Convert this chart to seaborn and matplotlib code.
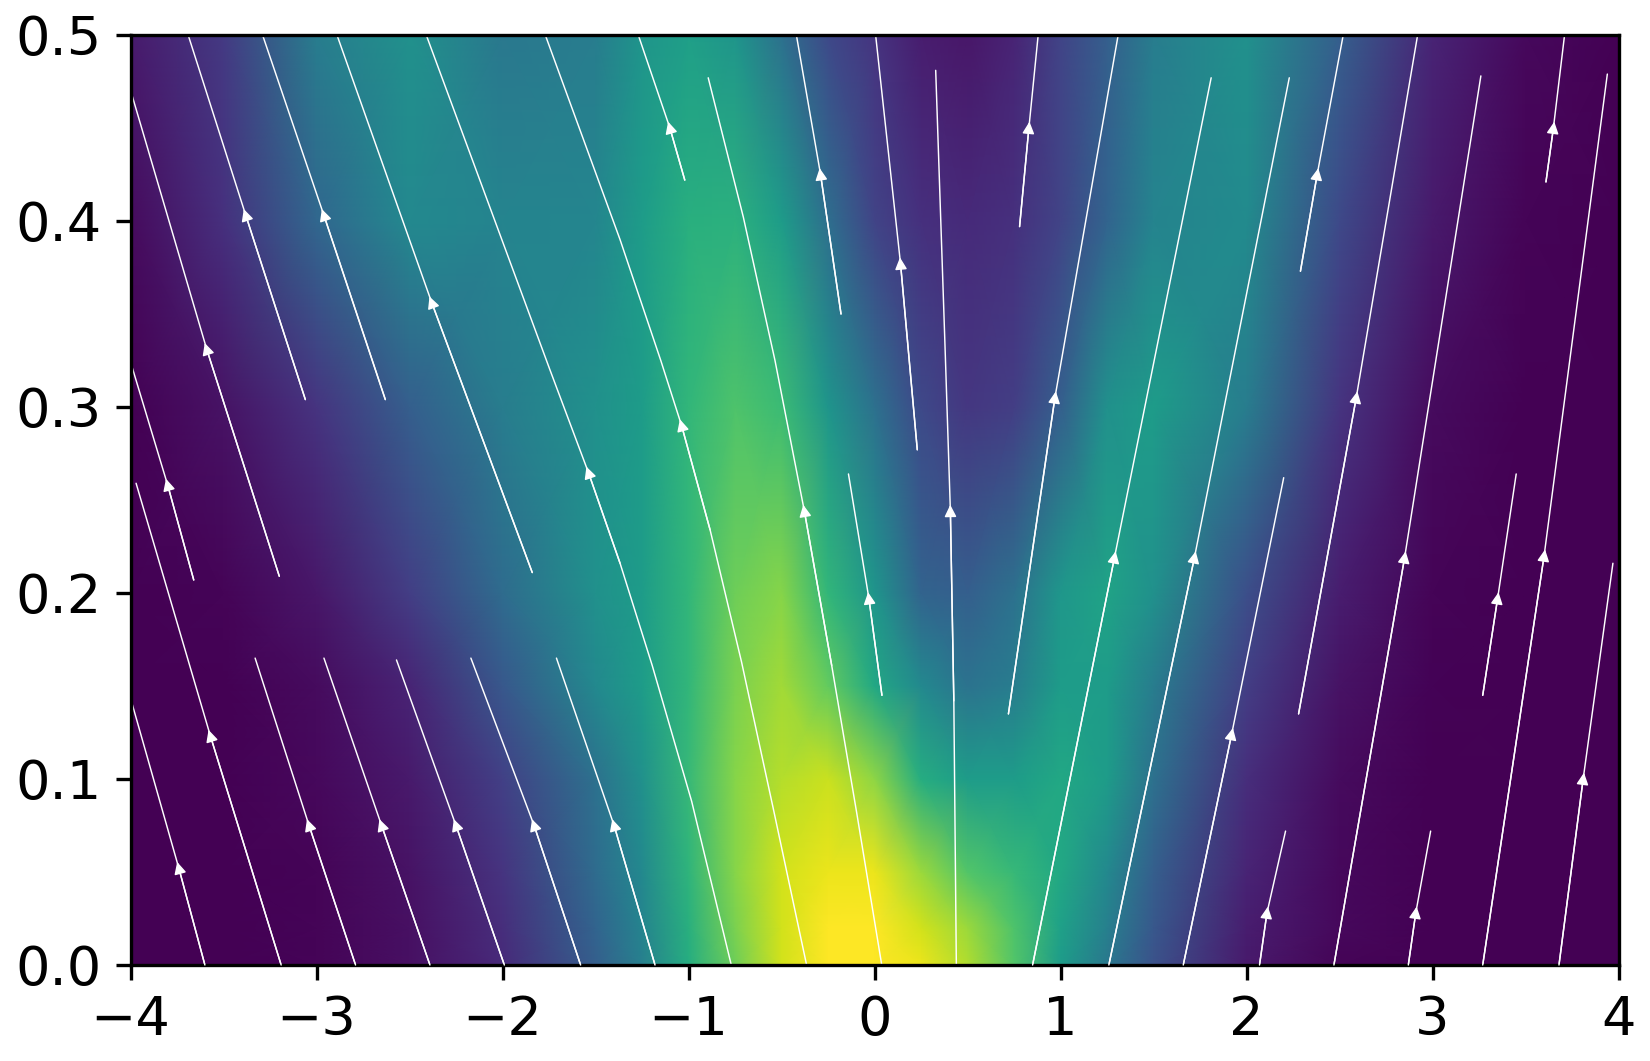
import numpy as np
import seaborn as sns
import matplotlib.pyplot as plt

field_x = [-4, -3.5, -3, -2.5, -2, -1.5, -1.25, -1, -0.75, -0.5, -0.25, 0, 0.25, 0.5, 0.75, 1, 1.25, 1.5, 2, 2.5, 3, 3.5, 4]
field_y = [0, 0.02, 0.05, 0.1, 0.15, 0.2, 0.3, 0.4, 0.5]
row_000 = [0, 0, .01, .04, .12, .30, .43, .62, .78, .93, 1, 1, .97, .88, .73, .55, .40, .25, .07, .01, 0, 0, 0]
row_002 = [0, 0, .01, .04, .13, .32, .45, .63, .80, .93, 1, 1, .93, .85, .72, .57, .43, .27, .08, .02, 0, 0, 0]
row_005 = [0, 0, .01, .05, .15, .35, .47, .65, .82, .93, .97, .97, .85, .73, .67, .60, .47, .30, .10, .02, 0, 0, 0]
row_010 = [0, 0, .02, .07, .19, .37, .50, .67, .82, .89, .92, .83, .62, .55, .55, .60, .55, .37, .13, .03, 0, 0, 0]
row_015 = [0, 0, .03, .10, .27, .47, .55, .66, .80, .86, .76, .60, .47, .38, .42, .55, .55, .42, .18, .05, .005, 0, 0]
row_020 = [0, .01, .06, .18, .35, .50, .55, .66, .78, .82, .66, .52, .32, .30, .37, .53, .58, .50, .24, .08, .01, 0, 0]
row_030 = [0, .05, .15, .30, .42, .50, .55, .66, .72, .68, .52, .37, .22, .16, .18, .30, .50, .55, .42, .15, .03, 0, 0]
row_040 = [.03, .14, .33, .47, .45, .46, .55, .63, .64, .55, .36, .20, .14, .12, .14, .20, .32, .45, .48, .22, .07, .01, 0]
row_050 = [.07, .17, .42, .50, .40, .42, .52, .56, .52, .37, .22, .15, .08, .06, .10, .20, .30, .42, .50, .30, .10, .02, 0]

# streamlines, bottom to top, and which point of each line carries the arrow
stream_x = [
    [-3.60, -3.74, -3.99], [-3.19, -3.57, -3.97], [-2.79, -3.04, -3.33],
    [-2.39, -2.65, -2.96], [-1.99, -2.25, -2.57], [-1.58, -1.83, -2.17],
    [-1.18, -1.40, -1.71],
    [-0.77, -0.983, -1.195, -1.368, -1.537, -1.745, -2.41],
    [-0.365, -0.544, -0.715, -0.884, -1.037, -1.149, -1.368, -1.77],
    [0.039, -0.096, -0.23, -0.377, -0.535, -0.705, -0.894],
    [0.44, 0.4265, 0.408, 0.38, 0.329], [0.85, 1.29, 1.81],
    [0.72, 0.97, 1.31], [0.04, -0.03, -0.14], [0.23, 0.14, 0.006],
    [-0.18, -0.29, -0.42], [-1.02, -1.10, -1.27], [0.78, 0.83, 0.88],
    [1.26, 1.72, 2.23], [1.66, 1.92, 2.20], [2.07, 2.11, 2.21],
    [2.47, 2.85, 3.26], [2.28, 2.59, 2.92], [2.29, 2.38, 2.52],
    [2.87, 2.91, 2.99], [3.27, 3.60, 3.94], [3.68, 3.81, 3.97],
    [3.27, 3.35, 3.45], [3.61, 3.65, 3.71], [-3.06, -3.38, -3.69],
    [-2.63, -2.96, -3.29], [-1.84, -2.38, -2.89], [-3.20, -3.59, -3.99],
    [-3.66, -3.80, -3.99],
]
stream_y = [
    [0, .052, .140], [0, .123, .259], [0, .075, .165],
    [0, .075, .165], [0, .075, .164], [0, .075, .165],
    [0, .075, .165],
    [0, .088, .161, .216, .2645, .32, .5],
    [0, .084, .163, .234, .290, .325, .390, .5],
    [0, .082, .161, .244, .325, .402, .477],
    [0, .142, .244, .330, .481], [0, .219, .477],
    [.135, .305, .5], [.145, .197, .264], [.277, .377, .5],
    [.350, .425, .5], [.422, .450, .5], [.397, .450, .5],
    [0, .219, .477], [0, .124, .262], [0, .028, .072],
    [0, .219, .478], [.135, .305, .5], [.373, .425, .5],
    [0, .028, .072], [0, .220, .479], [0, .100, .216],
    [.145, .197, .264], [.421, .450, .5], [.304, .403, .5],
    [.304, .403, .5], [.211, .356, .5], [.209, .331, .467],
    [.207, .258, .321],
]
stream_arrow = [1, 1, 1, 1, 1, 1, 1, 4, 4, 3, 2] + [1] * 23

x_ticks = [-4, -3, -2, -1, 0, 1, 2, 3, 4]
y_ticks = [0.0, 0.1, 0.2, 0.3, 0.4, 0.5]

sns.set_theme(style="ticks", rc={
    "axes.edgecolor": "black",
    "axes.linewidth": 0.8,
    "xtick.color": "black",
    "ytick.color": "black",
    "xtick.major.size": 3.5,
    "ytick.major.size": 3.5,
    "xtick.major.width": 0.8,
    "ytick.major.width": 0.8,
    "xtick.labelsize": 13,
    "ytick.labelsize": 13,
})
plt.rcParams["font.family"] = ["DejaVu Sans"]

fig, ax = plt.subplots(figsize=(5.5, 1061 / 300))
fig.subplots_adjust(left=130.5 / 1650, right=1618.5 / 1650, top=1 - 35 / 1061, bottom=1 - 965 / 1061)

field = np.array([row_000, row_002, row_005, row_010, row_015, row_020, row_030, row_040, row_050])
cmap = sns.color_palette("viridis", as_cmap=True)
ax.pcolormesh(field_x, field_y, field, cmap=cmap, vmin=0, vmax=1, shading="gouraud")

for xs, ys, i in zip(stream_x, stream_y, stream_arrow):
    sns.lineplot(x=xs, y=ys, sort=False, estimator=None, color="white", linewidth=0.35, ax=ax)
    # the listed point is the middle of the arrow head, so the tip goes a bit further
    slope = (xs[i] - xs[i - 1]) / (ys[i] - ys[i - 1])
    ax.annotate(
        "",
        xy=(xs[i] + slope * 0.0034, ys[i] + 0.0034),
        xytext=(xs[i - 1], ys[i - 1]),
        arrowprops=dict(
            arrowstyle="-|>",
            mutation_scale=6,
            color="white",
            linewidth=0.35,
            shrinkA=0,
            shrinkB=0,
        ),
    )

ax.set_xlim(-4, 4)
ax.set_ylim(0, 0.5)
ax.set_xticks(x_ticks)
ax.set_yticks(y_ticks)

fig.savefig("out.png", dpi=300)
